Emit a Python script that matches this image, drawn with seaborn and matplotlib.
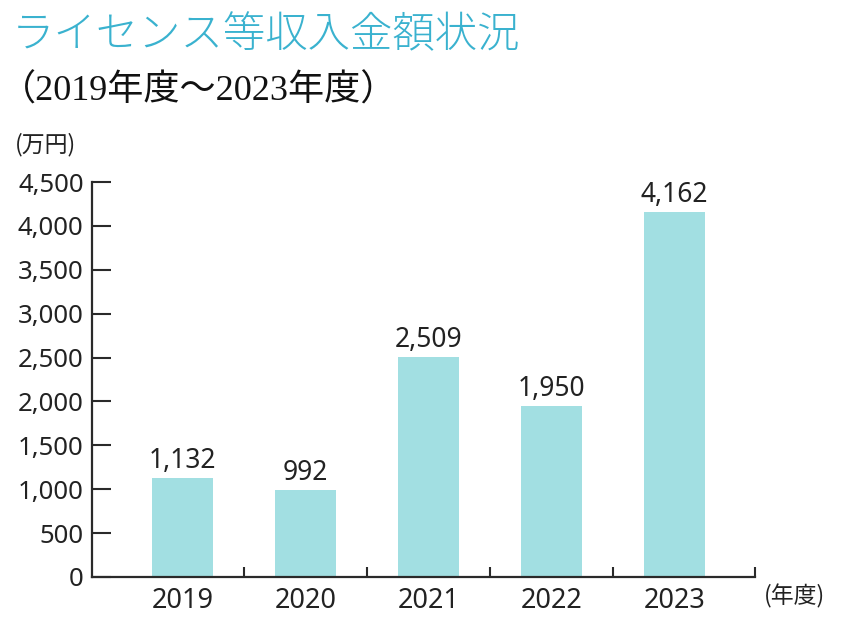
import matplotlib
matplotlib.use("Agg")
import matplotlib.pyplot as plt
import seaborn as sns
import pandas as pd
from matplotlib.ticker import FuncFormatter, FixedLocator

years = ["2019", "2020", "2021", "2022", "2023"]
values = [1132, 992, 2509, 1950, 4162]
yticks = [0, 500, 1000, 1500, 2000, 2500, 3000, 3500, 4000, 4500]

title = "ライセンス等収入金額状況"
subtitle = "（2019年度～2023年度）"
ylabel = "(万円)"
xlabel = "(年度)"

sns.set_theme(style="white")
plt.rcParams['font.family'] = ['Noto Sans', 'Noto Sans CJK JP', 'DejaVu Sans']

df = pd.DataFrame({"year": years, "value": values})

fig = plt.figure(figsize=(8.54, 6.36), dpi=100)
ax = fig.add_axes([0.1077, 0.0928, 0.7763, 0.621])

bar_color = "#a2dfe2"
sns.barplot(data=df, x="year", y="value", color=bar_color, width=0.5,
            saturation=1, ax=ax, edgecolor="none")

ax.set_ylim(0, 4500)
ax.set_xlim(-0.736, 4.654)
ax.set_yticks(yticks)
ax.yaxis.set_major_formatter(FuncFormatter(lambda v, p: f"{int(v):,}"))
ax.set_xlabel("")
ax.set_ylabel("")

axis_color = "#2a2a2a"
for s in ["top", "right"]:
    ax.spines[s].set_visible(False)
for s in ["left", "bottom"]:
    ax.spines[s].set_color(axis_color)
    ax.spines[s].set_linewidth(1.6)

ax.tick_params(axis="y", direction="in", length=14, width=1.5, color=axis_color,
               labelsize=18.5, labelcolor="#222222", pad=6, left=True)
ax.tick_params(axis="x", which="major", length=0, labelsize=19.5,
               labelcolor="#222222", pad=7)
ax.xaxis.set_minor_locator(FixedLocator([0.5, 1.5, 2.5, 3.5, 4.654]))
ax.tick_params(axis="x", which="minor", direction="in", length=7, width=1.5,
               color=axis_color, bottom=True)

for c in ax.containers:
    ax.bar_label(c, labels=[f"{v:,}" for v in values], padding=2,
                 fontsize=19, color="#222222")

fig.text(0.014, 0.945, title, fontsize=30.5, color="#3ab2cf", fontweight="light",
         family=['Noto Sans CJK JP'], va="center", ha="left")
fig.text(0.0, 0.857, subtitle, fontsize=26, color="#111111",
         family=['Liberation Serif', 'Noto Sans CJK JP'], va="center", ha="left")
fig.text(0.017, 0.773, ylabel, fontsize=16.5, color="#222222",
         family=['Noto Sans CJK JP'], va="center", ha="left")
fig.text(0.895, 0.062, xlabel, fontsize=16.5, color="#222222",
         family=['Noto Sans CJK JP'], va="center", ha="left")

fig.savefig("out.png", dpi=100, facecolor="white")
